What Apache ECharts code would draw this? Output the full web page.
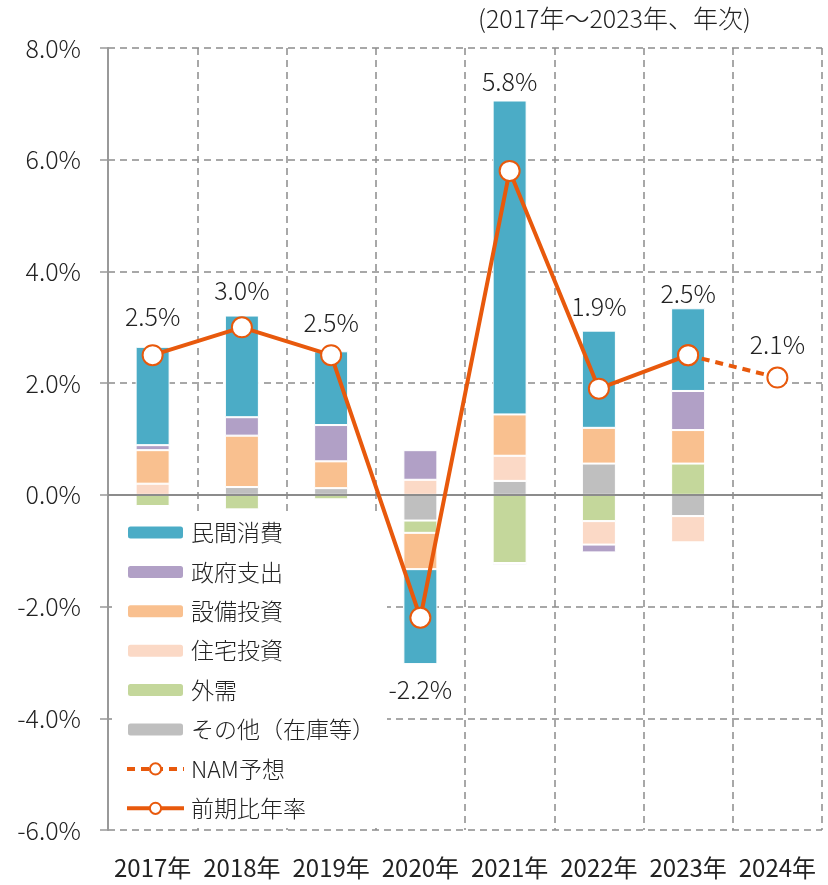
<!DOCTYPE html>
<html>
<head>
<meta charset="utf-8">
<script src="https://cdn.jsdelivr.net/npm/echarts@6/dist/echarts.min.js"></script>
<style>
  html, body { margin: 0; padding: 0; background: #fff; }
  #main { width: 828px; height: 885px; }
</style>
</head>
<body>
<div id="main"></div>
<script>
(function() {
    // データ（寄与度, %）
    var years = ['2017年', '2018年', '2019年', '2020年', '2021年', '2022年', '2023年', '2024年'];
    var other = [0, 0.14, 0.12, -0.46, 0.25, 0.56, -0.38, null];       // その他（在庫等）
    var external = [-0.2, -0.26, -0.08, -0.22, -1.22, -0.47, 0.56, null]; // 外需
    var housing = [0.2, 0, -0.02, 0.27, 0.45, -0.42, -0.47, null];     // 住宅投資
    var capex = [0.6, 0.92, 0.48, -0.65, 0.74, 0.64, 0.6, null];       // 設備投資
    var govt = [0.09, 0.33, 0.65, 0.53, -0.03, -0.14, 0.7, null];      // 政府支出
    var consumption = [1.76, 1.82, 1.32, -1.7, 5.62, 1.74, 1.48, null]; // 民間消費
    var growth = [2.5, 3.0, 2.5, -2.2, 5.8, 1.9, 2.5, null];           // 前期比年率
    var forecast = [null, null, null, null, null, null, 2.5, 2.1];     // NAM予想

    // ラベルの縦位置ずらし
    var growthLabelDy = [-39, -37, -33, 72, -89, -82, -62];
    var forecastLabelDy = -33;

    var font = 'Noto Sans CJK JP';
    var textColor = '#222';
    var lineColor = '#E8590C';

    var myChart = echarts.init(document.getElementById('main'));

    function barSeries(name, data, color) {
        return {
            name: name,
            type: 'bar',
            stack: 'total',
            data: data,
            barWidth: 34,
            itemStyle: { color: color, borderColor: '#fff', borderWidth: 1 }
        };
    }

    var bars = [
        barSeries('その他（在庫等）', other, '#BFBFBF'),
        barSeries('外需', external, '#C4D79B'),
        barSeries('住宅投資', housing, '#FBD9C6'),
        barSeries('設備投資', capex, '#F9C08F'),
        barSeries('政府支出', govt, '#B1A0C6'),
        barSeries('民間消費', consumption, '#4BACC6')
    ];
    // ゼロの線
    bars[0].markLine = {
        silent: true,
        symbol: 'none',
        label: { show: false },
        lineStyle: { color: '#8c8c8c', type: 'solid', width: 2 },
        data: [{ yAxis: 0 }]
    };

    var growthData = growth.map(function(v, i) {
        if (v === null) return v;
        return {
            value: v,
            label: { show: true, offset: [0, growthLabelDy[i]] }
        };
    });
    var forecastData = forecast.map(function(v, i) {
        if (v === null || i < 7) return v;
        return { value: v, label: { show: true, offset: [0, forecastLabelDy] } };
    });

    var lineLabel = {
        show: false,
        position: 'inside',
        formatter: function(p) { return p.value.toFixed(1) + '%'; },
        fontSize: 25,
        fontFamily: font,
        fontWeight: 300,
        color: textColor
    };

    var option = {
        animation: false,
        backgroundColor: '#fff',
        textStyle: { fontFamily: font },
        graphic: [{
            type: 'text',
            left: 478,
            top: 6,
            style: {
                text: '(2017年～2023年、年次)',
                fontSize: 25,
                fontFamily: font,
                fontWeight: 300,
                fill: textColor
            }
        }],
        grid: { left: 108, right: 6, top: 48, bottom: 55 },
        legend: {
            orient: 'vertical',
            left: 112,
            top: 512,
            padding: [9, 12, 6, 13],
            backgroundColor: '#fff',
            itemWidth: 57,
            itemHeight: 14,
            itemGap: 16.4,
            data: ['民間消費', '政府支出', '設備投資', '住宅投資', '外需', 'その他（在庫等）',
                { name: 'NAM予想', lineStyle: { width: 4 } },
                { name: '前期比年率', lineStyle: { width: 4 } }],
            textStyle: { fontSize: 23, lineHeight: 22, fontFamily: font, fontWeight: 300, color: textColor, padding: [0, 0, 0, 2] }
        },
        xAxis: {
            type: 'category',
            data: years,
            boundaryGap: true,
            axisLine: { show: false, onZero: false },
            axisTick: { show: false },
            axisLabel: { interval: 0, margin: 26, fontSize: 24, fontFamily: font, color: textColor },
            splitLine: { show: true, interval: 0, lineStyle: { color: '#8c8c8c', type: [7, 5], width: 1.5 } }
        },
        yAxis: {
            type: 'value',
            min: -6,
            max: 8,
            interval: 2,
            axisLine: { show: true, lineStyle: { color: '#999', width: 2 } },
            axisTick: { show: true, length: 8, lineStyle: { color: '#999', width: 1.5 } },
            axisLabel: {
                margin: 27,
                fontSize: 25,
                fontFamily: font,
                fontWeight: 300,
                color: textColor,
                formatter: function(v) { return v.toFixed(1) + '%'; }
            },
            splitLine: { show: true, lineStyle: { color: '#8c8c8c', type: [7, 5], width: 1.5 } }
        },
        series: bars.concat([{
            name: 'NAM予想',
            type: 'line',
            data: forecastData,
            symbol: 'circle',
            symbolSize: 20,
            itemStyle: { color: '#fff', borderColor: lineColor, borderWidth: 2 },
            lineStyle: { color: lineColor, width: 4, type: [8, 6] },
            label: lineLabel,
            z: 5
        }, {
            name: '前期比年率',
            type: 'line',
            data: growthData,
            symbol: 'circle',
            symbolSize: 20,
            itemStyle: { color: '#fff', borderColor: lineColor, borderWidth: 2 },
            lineStyle: { color: lineColor, width: 4 },
            label: lineLabel,
            z: 6
        }])
    };
    myChart.setOption(option);
})();
</script>
</body>
</html>
